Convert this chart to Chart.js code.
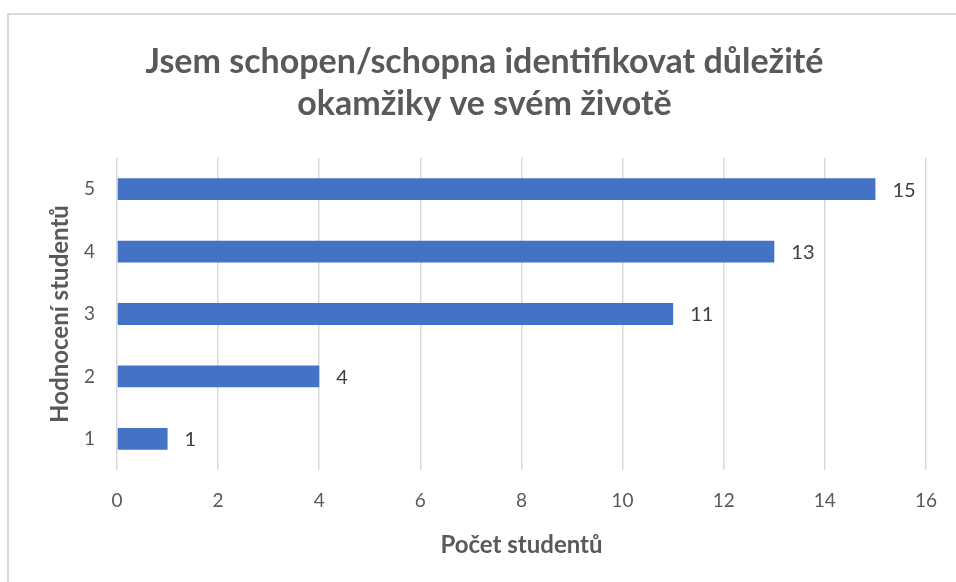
<!DOCTYPE html>
<html>
<head>
<meta charset="utf-8">
<script src="https://cdn.jsdelivr.net/npm/chart.js@4"></script>
<style>
html,body{margin:0;padding:0;background:#fff;}
#wrap{position:relative;width:956px;height:582px;overflow:hidden;}
#frame{position:absolute;left:7px;top:13px;width:1000px;height:1000px;border-top:2px solid #d9d9d9;border-left:2px solid #d9d9d9;pointer-events:none;}
canvas{position:absolute;left:0;top:0;}
</style>
</head>
<body>
<div id="wrap">
<canvas id="c" width="956" height="582"></canvas>
<div id="frame"></div>
</div>
<script>
const categories = ['1', '2', '3', '4', '5'];
const values = [1, 4, 11, 13, 15];
const titleLines = ['Jsem schopen/schopna identifikovat důležité', 'okamžiky ve svém životě'];
const xAxisTitle = 'Počet studentů';
const yAxisTitle = 'Hodnocení studentů';

const FONT = 'Lato, "Open Sans", sans-serif';
const TXT = '#595959';

const valueLabels = {
  id: 'valueLabels',
  afterDatasetsDraw(chart) {
    const ctx = chart.ctx;
    ctx.save();
    ctx.font = '20px ' + FONT;
    ctx.fillStyle = '#404040';
    ctx.textAlign = 'left';
    ctx.textBaseline = 'middle';
    chart.getDatasetMeta(0).data.forEach((bar, i) => {
      ctx.fillText(String(values[i]), bar.x + 17, bar.y + 1);
    });
    ctx.restore();
  }
};

new Chart(document.getElementById('c'), {
  type: 'bar',
  data: {
    labels: categories,
    datasets: [{
      data: values,
      backgroundColor: '#4472C4',
      borderWidth: 0,
      categoryPercentage: 1,
      barPercentage: 0.35
    }]
  },
  plugins: [valueLabels],
  options: {
    indexAxis: 'y',
    responsive: false,
    animation: false,
    layout: { padding: { left: 42, right: 29, top: 20, bottom: 10 } },
    plugins: {
      legend: { display: false },
      tooltip: { enabled: false },
      title: {
        display: true,
        text: titleLines,
        color: TXT,
        font: { family: FONT, size: 34, weight: 'bold', lineHeight: 1.235 },
        padding: { top: 21, bottom: 33 }
      }
    },
    scales: {
      x: {
        min: 0, max: 16,
        ticks: { stepSize: 2, color: TXT, font: { family: FONT, size: 19 }, padding: 19 },
        grid: { color: '#d9d9d9', lineWidth: 1.5, drawTicks: false },
        border: { display: false },
        title: { display: true, text: xAxisTitle, color: TXT, font: { family: FONT, size: 24, weight: 'bold' }, padding: { top: 4, bottom: 12 } },
        afterFit(s) { s.height = 102; }
      },
      y: {
        reverse: true,
        ticks: { color: TXT, font: { family: FONT, size: 19 }, padding: 22 },
        grid: { display: false, drawTicks: false },
        border: { display: false },
        title: { display: true, text: yAxisTitle, color: TXT, font: { family: FONT, size: 24, weight: 'bold' }, padding: { top: 4, bottom: 4 } },
        afterFit(s) { s.width = 75; }
      }
    }
  }
});
</script>
</body>
</html>
